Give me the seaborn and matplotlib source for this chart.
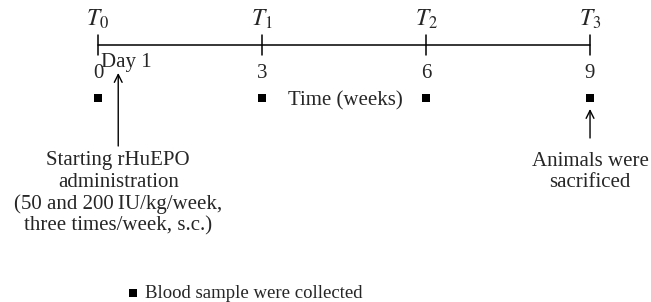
import pandas as pd
import seaborn as sns
import matplotlib.pyplot as plt

# timeline data (weeks)
weeks = [0, 3, 6, 9]
time_points = ['$T_0$', '$T_1$', '$T_2$', '$T_3$']
week_labels = ['0', '3', '6', '9']
blood_weeks = [0, 3, 6, 9]
start_week = 0.37      # "Day 1" arrow
sacrifice_week = 9

sns.set_theme(style='white')
plt.rcParams['font.family'] = ['Liberation Serif', 'DejaVu Serif']
plt.rcParams['mathtext.fontset'] = 'stix'

W, H = 651, 302
px = 54.67            # pixels per week
x0 = 98               # pixel position of week 0

fig = plt.figure(figsize=(W / 100, H / 100), dpi=100)
ax = fig.add_axes([0, 0, 1, 1])
ax.set_xlim(-x0 / px, (W - x0) / px)
ax.set_ylim(H, 0)
ax.axis('off')

fs = 15
line_y = 45

# main axis line
line_df = pd.DataFrame({'week': [weeks[0], weeks[-1]], 'y': [line_y, line_y]})
sns.lineplot(data=line_df, x='week', y='y', color='black', lw=1.1, ax=ax)

for w, t, lab in zip(weeks, time_points, week_labels):
    ax.plot([w, w], [35, 55], color='black', lw=1.1)
    ax.text(w, 19, t, ha='center', va='center', fontsize=17)
    ax.text(w, 73, lab, ha='center', va='center', fontsize=fs)

# blood sample markers
blood_df = pd.DataFrame({'week': blood_weeks, 'y': [98] * len(blood_weeks)})
sns.scatterplot(data=blood_df, x='week', y='y', marker='s', s=32,
                color='black', edgecolor='none', ax=ax)

ax.text((345 - x0) / px, 101, 'Time (weeks)', ha='center', va='center', fontsize=fs)
ax.text(0.05, 62, 'Day 1', ha='left', va='center', fontsize=fs)

# arrows
ax.annotate('', xy=(start_week, 73), xytext=(start_week, 146),
            arrowprops=dict(arrowstyle='->', color='black', lw=1.0,
                            mutation_scale=14, shrinkA=0, shrinkB=0))
ax.annotate('', xy=(sacrifice_week, 109), xytext=(sacrifice_week, 138),
            arrowprops=dict(arrowstyle='->', color='black', lw=1.0,
                            mutation_scale=14, shrinkA=0, shrinkB=0))

start_lines = ['Starting rHuEPO', 'administration',
               '(50 and 200\u2009IU/kg/week,', 'three times/week, s.c.)']
for i, s in enumerate(start_lines):
    ax.text(start_week, 161 + i * 21.5, s, ha='center', va='center', fontsize=fs)

for i, s in enumerate(['Animals were', 'sacrificed']):
    ax.text(sacrifice_week, 161 + i * 21.5, s, ha='center', va='center', fontsize=fs)

# legend
leg_df = pd.DataFrame({'week': [(133 - x0) / px], 'y': [293]})
sns.scatterplot(data=leg_df, x='week', y='y', marker='s', s=28,
                color='black', edgecolor='none', ax=ax)
ax.text((145 - x0) / px, 293, 'Blood sample were collected',
        ha='left', va='center', fontsize=13.5)

ax.set_xlabel('')
ax.set_ylabel('')
fig.savefig('out.png', dpi=100)
